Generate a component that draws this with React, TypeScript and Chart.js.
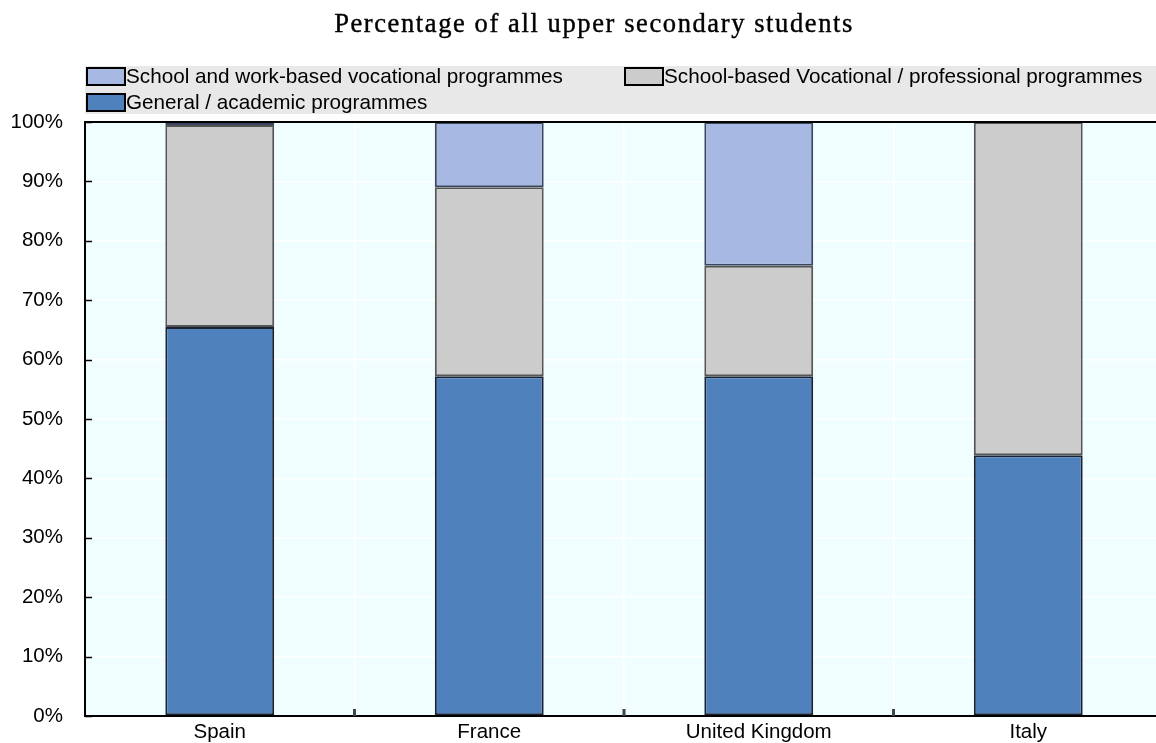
import { useEffect, useRef } from 'react';
import { Chart, registerables } from 'chart.js';

Chart.register(...registerables);

const TITLE = 'Percentage of all upper secondary students';
const categories = ['Spain', 'France', 'United Kingdom', 'Italy'];
const generalAcademic = [65.5, 57.2, 57.2, 43.9];
const schoolVocational = [34.0, 31.8, 18.6, 56.1];
const workVocational = [0.5, 11.0, 24.2, 0];
const yTicks = [0, 10, 20, 30, 40, 50, 60, 70, 80, 90, 100];

const LEFT = 85;
const TOP = 122;
const BOTTOM = 716;
const VIEW_W = 1156;
const CANVAS_W = 1170;
const CANVAS_H = 743;
const CAT_W = 269.5;
const RIGHT = LEFT + CAT_W * 4;

const SANS = '"Liberation Sans", Arial, sans-serif';

const decorPlugin = {
  id: 'decor',
  beforeDraw(chart: any) {
    const { ctx, chartArea } = chart;
    ctx.save();
    ctx.fillStyle = '#ffffff';
    ctx.fillRect(0, 0, chart.width, chart.height);
    // legend background
    ctx.fillStyle = '#E8E8E8';
    ctx.fillRect(LEFT, 66, chart.width - LEFT, 48);
    // plot background
    ctx.fillStyle = '#F1FEFF';
    ctx.fillRect(chartArea.left, chartArea.top, chartArea.right - chartArea.left, chartArea.bottom - chartArea.top);
    ctx.restore();
  },
  afterDraw(chart: any) {
    const { ctx, chartArea, scales } = chart;
    ctx.save();
    // borders
    ctx.strokeStyle = '#000000';
    ctx.lineWidth = 2;
    ctx.beginPath();
    ctx.moveTo(chart.width, chartArea.top);
    ctx.lineTo(chartArea.left, chartArea.top);
    ctx.lineTo(chartArea.left, chartArea.bottom);
    ctx.lineTo(chart.width, chartArea.bottom);
    ctx.stroke();
    // inward y tick marks
    ctx.lineWidth = 1.5;
    ctx.beginPath();
    yTicks.forEach((v) => {
      const y = Math.round(scales.y.getPixelForValue(v)) + 0.5;
      ctx.moveTo(chartArea.left, y);
      ctx.lineTo(chartArea.left + 7, y);
    });
    ctx.stroke();
    // x tick marks at category boundaries
    ctx.strokeStyle = '#444444';
    ctx.lineWidth = 3;
    ctx.beginPath();
    for (let i = 1; i < categories.length; i++) {
      const x = (scales.x.getPixelForValue(i - 1) + scales.x.getPixelForValue(i)) / 2;
      ctx.moveTo(x, chartArea.bottom);
      ctx.lineTo(x, chartArea.bottom - 7);
    }
    ctx.stroke();

    // title
    ctx.fillStyle = '#000000';
    ctx.strokeStyle = '#000000';
    ctx.lineWidth = 0.4;
    ctx.font = '26.5px "Liberation Serif", "Times New Roman", serif';
    ctx.textAlign = 'center';
    ctx.textBaseline = 'alphabetic';
    (ctx as any).letterSpacing = '1.6px';
    ctx.fillText(TITLE, 594, 32);
    ctx.strokeText(TITLE, 594, 32);
    (ctx as any).letterSpacing = '0px';

    // legend
    const ds = chart.data.datasets;
    const items = [
      { d: ds[2], x: 87, y: 68 },
      { d: ds[1], x: 625, y: 68 },
      { d: ds[0], x: 87, y: 94 },
    ];
    ctx.font = `20.7px ${SANS}`;
    ctx.textAlign = 'left';
    ctx.textBaseline = 'middle';
    items.forEach((it) => {
      ctx.fillStyle = it.d.backgroundColor;
      ctx.fillRect(it.x, it.y, 38, 17);
      ctx.strokeStyle = '#000000';
      ctx.lineWidth = 2;
      ctx.strokeRect(it.x, it.y, 38, 17);
      ctx.fillStyle = '#000000';
      ctx.fillText(it.d.label, it.x + 39, it.y + 9);
    });
    ctx.restore();
  },
};

export default function App() {
  const ref = useRef<HTMLCanvasElement>(null);

  useEffect(() => {
    const canvas = ref.current;
    if (!canvas) return;
    const chart = new Chart(canvas, {
      type: 'bar',
      data: {
        labels: categories,
        datasets: [
          {
            label: 'General / academic programmes',
            data: generalAcademic,
            backgroundColor: '#4F81BD',
            borderColor: '#1A2233',
            borderWidth: 2,
            borderSkipped: false,
          },
          {
            label: 'School-based Vocational / professional programmes',
            data: schoolVocational,
            backgroundColor: '#CCCCCC',
            borderColor: '#555555',
            borderWidth: 2,
            borderSkipped: false,
          },
          {
            label: 'School and work-based vocational programmes',
            data: workVocational,
            backgroundColor: '#A7B8E2',
            borderColor: '#3A4560',
            borderWidth: 2,
            borderSkipped: false,
          },
        ],
      },
      options: {
        responsive: false,
        maintainAspectRatio: false,
        animation: false,
        devicePixelRatio: 1,
        layout: {
          autoPadding: false,
          padding: { top: TOP, left: 0, right: CANVAS_W - RIGHT, bottom: 0 },
        },
        datasets: {
          bar: { categoryPercentage: 1, barPercentage: 0.404 },
        },
        plugins: {
          legend: { display: false },
          title: { display: false },
          tooltip: { enabled: false },
        },
        scales: {
          x: {
            stacked: true,
            offset: true,
            grid: { offset: true, color: '#ffffff', lineWidth: 1.5, drawTicks: false },
            border: { display: false },
            ticks: {
              color: '#000000',
              font: { family: SANS, size: 20.5 },
              padding: 4,
              maxRotation: 0,
              autoSkip: false,
            },
            afterFit(scale: any) {
              scale.height = CANVAS_H - BOTTOM;
              scale.paddingLeft = 0;
              scale.paddingRight = 0;
            },
          },
          y: {
            stacked: true,
            min: 0,
            max: 100,
            grid: { color: '#ffffff', lineWidth: 1.5, drawTicks: false },
            border: { display: false },
            ticks: {
              stepSize: 10,
              color: '#000000',
              font: { family: SANS, size: 20.5 },
              padding: 22,
              callback: (v: any) => `${v}%`,
            },
            afterFit(scale: any) {
              scale.width = LEFT;
              scale.paddingTop = 0;
              scale.paddingBottom = 0;
            },
          },
        },
      },
      plugins: [decorPlugin],
    });
    return () => chart.destroy();
  }, []);

  return (
    <div
      style={{
        position: 'fixed',
        left: 0,
        top: 0,
        width: VIEW_W,
        height: CANVAS_H,
        overflow: 'hidden',
        background: '#ffffff',
      }}
    >
      <canvas
        ref={ref}
        width={CANVAS_W}
        height={CANVAS_H}
        style={{ display: 'block', width: CANVAS_W, height: CANVAS_H }}
      />
    </div>
  );
}
